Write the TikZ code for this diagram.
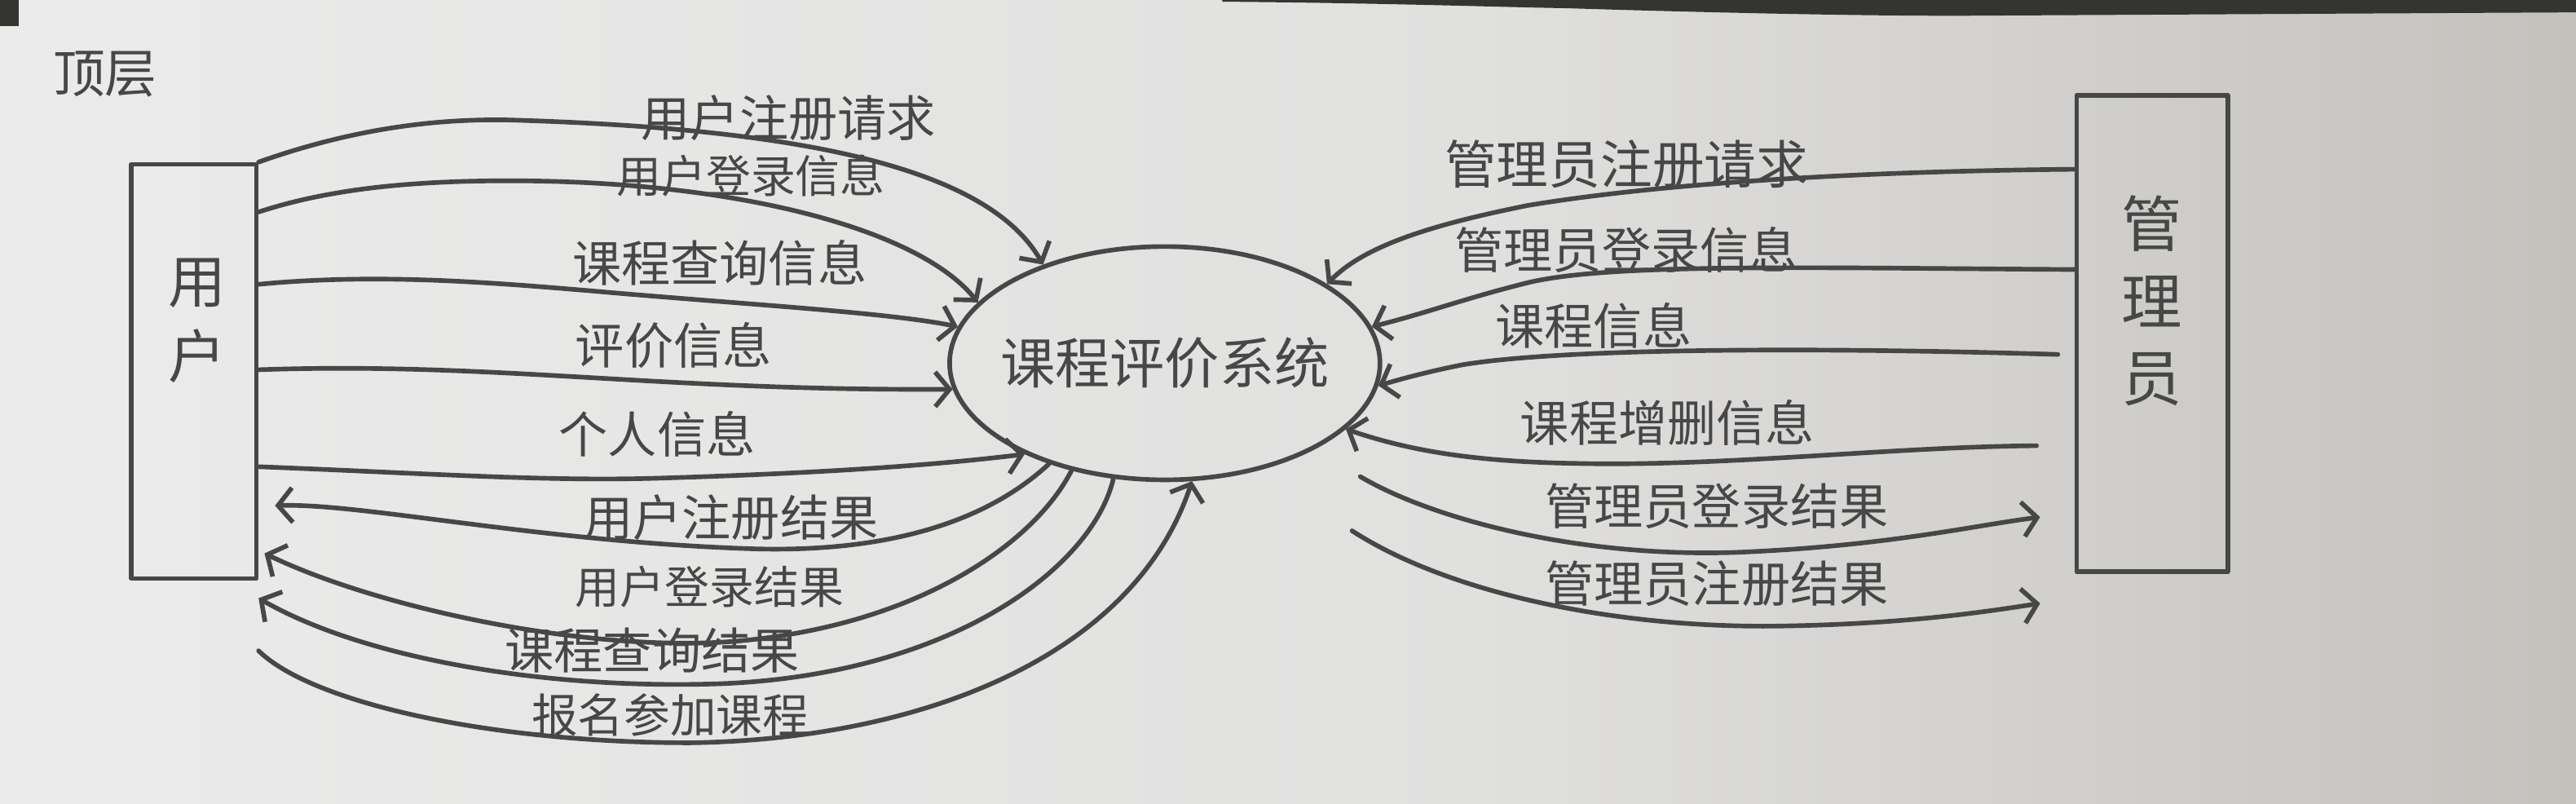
\documentclass[tikz,border=0pt]{standalone}
\usepackage{fontspec}
\setmainfont{Noto Sans CJK SC}
\usetikzlibrary{arrows.meta,shapes.geometric}
\definecolor{ink}{HTML}{474747}
\definecolor{paperL}{HTML}{EBEBEB}
\definecolor{paperM}{HTML}{E0E0DF}
\definecolor{paperR}{HTML}{C4C1BD}
\definecolor{edge}{HTML}{343431}
\begin{document}
\begin{tikzpicture}[x=0.02cm,y=-0.02cm,
  line/.style={draw=ink, line width=1.6pt, line cap=round, line join=round},
  flow/.style={line, -{Straight Barb[length=5pt,width=12pt]}},
  lbl/.style={text=ink, font=\fontsize{17}{17}\selectfont, inner sep=0pt},
  ent/.style={text=ink, font=\fontsize{20}{26}\selectfont, inner sep=0pt, align=center},
  entity/.style={line, rectangle, inner sep=0pt},
  proc/.style={line, ellipse, inner sep=0pt, minimum width=5.24cm, minimum height=2.84cm}]
% paper
\shade[left color=paperL, right color=paperM] (0,0) rectangle (900,489.2);
\shade[left color=paperM, right color=paperR] (899.5,0) rectangle (1568,489.2);
\useasboundingbox (0,0) rectangle (1568,489.2);
\fill[edge] (744,0) -- (744,1) .. controls (850,2) and (900,4) .. (954,5)
  .. controls (1050,8) and (1150,10) .. (1206,9.5) -- (1568,7.5) -- (1568,0) -- cycle;
\fill[edge] (0,0) rectangle (11.5,16);
% title
\node[lbl, font=\fontsize{18}{18}\selectfont] (title) at (64,45) {顶层};
% entities and process
\node[entity, minimum width=1.52cm, minimum height=5.04cm] (user) at (118,226) {};
\node[ent] (usertxt) at (120,195) {用\\户};
\node[entity, minimum width=1.84cm, minimum height=5.8cm] (admin) at (1310,203) {};
\node[ent, font=\fontsize{21}{26.6}\selectfont] (admintxt) at (1310,183) {管\\理\\员};
\node[proc, label={[lbl, font=\fontsize{19}{19}\selectfont]center:课程评价系统}] (sys) at (709,221) {};
\coordinate (s14) at (828,290);
\coordinate (s15) at (823,323);
% user -> system
\draw[flow] (user.north east) .. controls (210,80) and (260,72) .. (310,73)
  .. controls (480,78) and (600,100) .. (sys.141);
\draw[flow] (user.east |- 0,129) .. controls (200,115) and (250,110) .. (310,110)
  .. controls (450,110) and (560,140) .. (sys.162);
\draw[flow] (user.east |- 0,173) .. controls (230,166) and (300,172) .. (360,177)
  .. controls (450,185) and (540,190) .. (sys.170);
\draw[flow] (user.east |- 0,225) .. controls (300,220) and (400,238) .. (sys.187);
\draw[flow] (user.east |- 0,284) .. controls (260,288) and (330,293) .. (400,291)
  .. controls (500,288) and (570,283) .. (sys.213.5);
% system -> user
\draw[flow, shorten >=0.2cm] (sys.221) .. controls (600,318) and (540,336) .. (460,334)
  .. controls (330,330) and (220,306) .. (user.east |- 0,308);
\draw[flow, shorten >=0.08cm] (sys.229) .. controls (630,330) and (560,380) .. (450,390)
  .. controls (360,398) and (230,370) .. (user.east |- 0,335);
\draw[flow] (sys.246) .. controls (665,345) and (580,410) .. (440,416)
  .. controls (330,420) and (220,400) .. (user.east |- 0,364);
% user -> system (enrol)
\draw[flow] (user.east |- 0,396) .. controls (190,428) and (300,452) .. (420,452)
  .. controls (560,450) and (690,400) .. (sys.283.5);
% admin -> system
\draw[flow] (admin.west |- 0,103) .. controls (1150,104) and (1020,110) .. (930,125)
  .. controls (870,137) and (830,150) .. (sys.26.6);
\draw[flow] (admin.west |- 0,164) .. controls (1100,163) and (980,160) .. (930,172)
  .. controls (890,182) and (870,190) .. (sys.10);
\draw[flow, shorten <=0.2cm] (admin.west |- 0,216) .. controls (1100,211) and (950,212) .. (890,222)
  .. controls (870,226) and (855,230) .. (sys.354.5);
\draw[flow, shorten <=0.46cm] (admin.west |- 0,271) .. controls (1150,272) and (1050,284) .. (960,282)
  .. controls (900,281) and (860,275) .. (sys.340);
% system -> admin
\draw[flow, shorten >=0.42cm] (s14) .. controls (870,315) and (960,340) .. (1060,336)
  .. controls (1150,332) and (1200,320) .. (admin.west |- 0,312);
\draw[flow, shorten >=0.42cm] (s15) .. controls (880,360) and (980,382) .. (1080,381)
  .. controls (1160,380) and (1210,372) .. (admin.west |- 0,364);
% labels
\node[lbl] (l1) at (480,72) {用户注册请求};
\node[lbl, font=\fontsize{15.5}{15.5}\selectfont] (l2) at (457,107) {用户登录信息};
\node[lbl] (l3) at (438,160) {课程查询信息};
\node[lbl] (l4) at (410,210) {评价信息};
\node[lbl] (l5) at (400,264) {个人信息};
\node[lbl] (l6) at (445,315) {用户注册结果};
\node[lbl, font=\fontsize{15.5}{15.5}\selectfont] (l7) at (432,357) {用户登录结果};
\node[lbl] (l8) at (397,396) {课程查询结果};
\node[lbl, font=\fontsize{16}{16}\selectfont] (l9) at (408,435) {报名参加课程};
\node[lbl, font=\fontsize{18}{18}\selectfont] (r1) at (990,100) {管理员注册请求};
\node[lbl] (r2) at (990,152) {管理员登录信息};
\node[lbl] (r3) at (970,198) {课程信息};
\node[lbl] (r4) at (1015,257) {课程增删信息};
\node[lbl] (r5) at (1045,308) {管理员登录结果};
\node[lbl] (r6) at (1045,355) {管理员注册结果};
\end{tikzpicture}
\end{document}
